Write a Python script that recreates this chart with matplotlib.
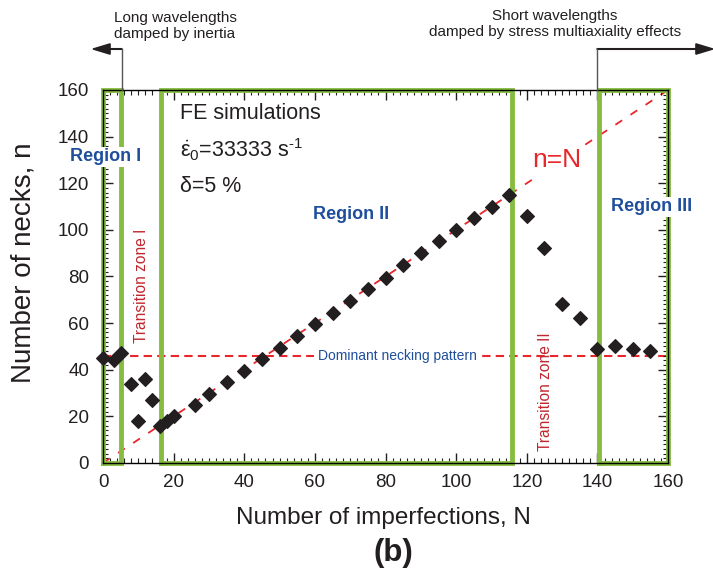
import numpy as np
import matplotlib
matplotlib.use("Agg")
import matplotlib.pyplot as plt
from matplotlib.ticker import MultipleLocator

plt.rcParams["font.family"] = ["Liberation Sans", "DejaVu Sans"]
plt.rcParams["mathtext.fontset"] = "custom"
plt.rcParams["mathtext.rm"] = "Liberation Sans"
plt.rcParams["mathtext.it"] = "Liberation Sans:italic"

# data
imperfections = [0, 3, 5, 8, 10, 12, 14, 16, 18, 20, 26, 30, 35, 40, 45, 50,
                 55, 60, 65, 70, 75, 80, 85, 90, 95, 100, 105, 110, 115,
                 120, 125, 130, 135, 140, 145, 150, 155]
necks = [45, 44, 47, 34, 18, 36, 27, 16, 18, 20, 25, 29.5, 34.5, 39.5, 44.5,
         49.5, 54.5, 59.5, 64.5, 69.5, 74.5, 79.5, 85, 90, 95, 100, 105,
         110, 115, 106, 92, 68, 62, 49, 50, 49, 48]
dominant_n = 46
regions = [(0, 5.2), (16.3, 115.8), (140.4, 160)]
region_names = ["Region I", "Region II", "Region III"]

green = "#86bd40"
red = "#e8262b"
blue = "#1f4e9c"
dark = "#231f20"

fig = plt.figure(figsize=(7.13, 5.75), dpi=100)
ax = fig.add_axes([0.1445, 0.195, 0.7925, 0.6485])

# region boxes
for x0, x1 in regions:
    ax.plot([x0, x1, x1, x0, x0], [0, 0, 160, 160, 0], color=green, lw=3.5,
            zorder=2, clip_on=False, solid_joinstyle="miter")

# n = N line and dominant pattern
ax.plot([0, 160], [0, 160], ls=(0, (4.5, 5.5)), color=red, lw=1.3, zorder=1)
ax.axhline(dominant_n, ls=(0, (4, 2.5)), color=red, lw=1.5, zorder=1)

ax.plot(imperfections, necks, ls="none", marker="D", ms=7.6, mew=0.8,
        color=dark, zorder=5, clip_on=False)

# texts
ax.text(0.6, 131.3, region_names[0], color=blue, fontweight="bold", fontsize=13,
        ha="center", va="center", zorder=4,
        bbox=dict(fc="white", ec="none", pad=1))
ax.text(70.3, 106.4, region_names[1], color=blue, fontweight="bold", fontsize=13,
        ha="center", va="center", zorder=4)
ax.text(155.2, 109.8, region_names[2], color=blue, fontweight="bold", fontsize=13,
        ha="center", va="center", zorder=4,
        bbox=dict(fc="white", ec="none", pad=1))
ax.text(83.5, 46, "Dominant necking pattern", color=blue, fontsize=10,
        ha="center", va="center", zorder=4,
        bbox=dict(fc="white", ec="none", pad=3))
ax.text(128.6, 130, "n=N", color=red, fontsize=19, ha="center", va="center",
        zorder=4, bbox=dict(fc="white", ec="none", pad=2))
ax.text(11, 76, "Transition zone I", color="#c0272d", fontsize=11.2,
        rotation=90, ha="center", va="center")
ax.text(125.2, 30.7, "Transition zone II", color="#c0272d", fontsize=11.2,
        rotation=90, ha="center", va="center")

ax.text(21.8, 149.7, "FE simulations", fontsize=15.5, color=dark, va="center")
ax.text(21.8, 134.5, r"$\dot{\mathrm{\varepsilon}}_0$=33333 s$^{\text{-1}}$",
        fontsize=15.5, color=dark, va="center")
ax.text(21.8, 118.4, "δ=5 %", fontsize=15.5, color=dark, va="center")

ax.set_xlim(0, 160)
ax.set_ylim(0, 160)
ax.xaxis.set_major_locator(MultipleLocator(20))
ax.xaxis.set_minor_locator(MultipleLocator(2))
ax.yaxis.set_major_locator(MultipleLocator(20))
ax.yaxis.set_minor_locator(MultipleLocator(2))
ax.tick_params(which="both", direction="in", top=True, right=True,
               labelsize=13.5, colors=dark)
ax.tick_params(which="major", length=7, width=1)
ax.tick_params(which="minor", length=3.5, width=0.8)
ax.tick_params(axis="x", which="major", pad=8)
ax.tick_params(axis="y", which="major", pad=10)
for s in ax.spines.values():
    s.set_linewidth(1)

ax.set_xlabel("Number of imperfections, N", fontsize=17.5, color=dark)
ax.set_ylabel("Number of necks, n", fontsize=20, color=dark)
ax.xaxis.set_label_coords(0.497, -0.118)
ax.yaxis.set_label_coords(-0.117, 0.536)

# annotations above the plot
fig.text(175 / 713, 1 - 26 / 575, "Long wavelengths\ndamped by inertia",
         ha="center", va="center", fontsize=11, color=dark)
fig.text(555 / 713, 1 - 24 / 575,
         "Short wavelengths\ndamped by stress multiaxiality effects",
         ha="center", va="center", fontsize=11, color=dark)
yb = 1 - 90 / 575
ya = 1 - 49 / 575
x_left = 122 / 713
x_right = 597 / 713
fig.add_artist(plt.Line2D([x_left, x_left], [yb, ya], color="#555555", lw=1))
fig.add_artist(plt.Line2D([x_right, x_right], [yb, ya], color="#555555", lw=1))
fig.patches.append(matplotlib.patches.FancyArrow(
    x_left, ya, -(x_left - 93 / 713), 0, width=0.0012, head_width=0.018,
    head_length=0.024, length_includes_head=True, color=dark,
    transform=fig.transFigure, figure=fig))
fig.patches.append(matplotlib.patches.FancyArrow(
    x_right, ya, (713 / 713 - x_right), 0, width=0.0012, head_width=0.018,
    head_length=0.024, length_includes_head=True, color=dark,
    transform=fig.transFigure, figure=fig))

fig.text(393 / 713, 1 - 553 / 575, "(b)", fontsize=22.5, fontweight="bold",
         ha="center", va="center", color=dark)

fig.savefig("out.png", dpi=100)
